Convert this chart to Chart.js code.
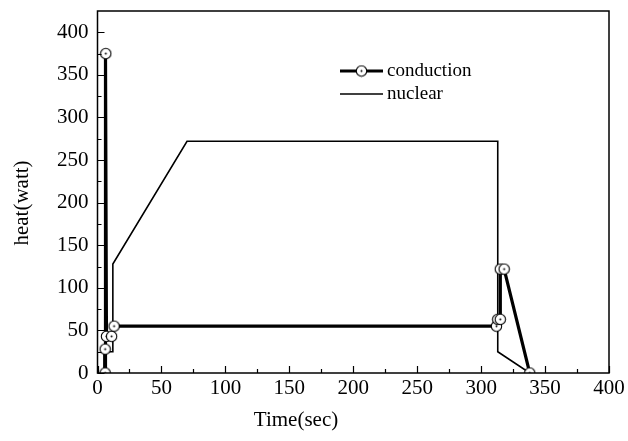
<!DOCTYPE html>
<html>
<head>
<meta charset="utf-8">
<script src="https://cdn.jsdelivr.net/npm/chart.js@4/dist/chart.umd.min.js"></script>
<style>
  html, body { margin: 0; padding: 0; background: #fff; }
  #wrap { width: 628px; height: 441px; }
</style>
</head>
<body>
<div id="wrap"><canvas id="heatChart" width="628" height="441"></canvas></div>
<script>
// conduction heat vs time
const condTime = [6, 6, 6.5, 7, 11, 13, 312, 313, 315, 315, 318, 338];
const condHeat = [0, 28, 375, 43, 43, 55, 55, 63, 63, 122, 122, 0];

// nuclear heat vs time
const nucTime = [5, 5, 12, 12, 70, 313, 313, 338];
const nucHeat = [0, 25, 25, 128, 272, 272, 25, 0];

const xTicks = [0, 50, 100, 150, 200, 250, 300, 350, 400];
const yTicks = [0, 50, 100, 150, 200, 250, 300, 350, 400];

const ink = '#000';
const serif = '"Liberation Serif", "DejaVu Serif", serif';

// open circle with a dot in the middle
function dotCircle() {
  const c = document.createElement('canvas');
  c.width = 13; c.height = 13;
  const g = c.getContext('2d');
  g.beginPath();
  g.arc(6.5, 6.5, 5.2, 0, Math.PI * 2);
  g.fillStyle = '#fff';
  g.fill();
  g.lineWidth = 1.1;
  g.strokeStyle = ink;
  g.stroke();
  g.beginPath();
  g.arc(6.5, 6.5, 1, 0, Math.PI * 2);
  g.fillStyle = ink;
  g.fill();
  return c;
}
const marker = dotCircle();

const toPoints = (xs, ys) => xs.map((x, i) => ({ x, y: ys[i] }));

// frame, inward ticks, axis titles and the legend box
const framePlugin = {
  id: 'frame',
  afterDraw(chart) {
    const { ctx, chartArea: a, scales } = chart;
    ctx.save();
    ctx.strokeStyle = ink;
    ctx.lineWidth = 1.5;
    ctx.strokeRect(a.left, a.top, a.right - a.left, a.bottom - a.top);

    ctx.lineWidth = 1.2;
    ctx.beginPath();
    for (let v = 0; v <= 400; v += 25) {
      const len = v % 50 === 0 ? 7 : 4;
      const px = Math.round(scales.x.getPixelForValue(v)) + 0.5;
      ctx.moveTo(px, a.bottom);
      ctx.lineTo(px, a.bottom - len);
      const py = Math.round(scales.y.getPixelForValue(v)) + 0.5;
      ctx.moveTo(a.left, py);
      ctx.lineTo(a.left + len, py);
    }
    ctx.stroke();

    // axis titles
    ctx.fillStyle = ink;
    ctx.font = '21px ' + serif;
    ctx.textAlign = 'center';
    ctx.textBaseline = 'middle';
    ctx.fillText('Time(sec)', 296, 420);
    ctx.save();
    ctx.translate(22, 203);
    ctx.rotate(-Math.PI / 2);
    ctx.fillText('heat(watt)', 0, 0);
    ctx.restore();

    // legend
    const lx = 340, rows = [71, 94];
    ctx.font = '19px ' + serif;
    ctx.textAlign = 'left';
    chart.data.datasets.forEach((ds, i) => {
      const y = rows[i];
      ctx.lineWidth = ds.borderWidth;
      ctx.beginPath();
      ctx.moveTo(lx, y);
      ctx.lineTo(lx + 43, y);
      ctx.stroke();
      if (ds.pointRadius > 0) ctx.drawImage(marker, lx + 15, y - 6.5);
      ctx.fillText(ds.label, lx + 47, y);
    });
    ctx.restore();
  }
};

new Chart(document.getElementById('heatChart'), {
  type: 'scatter',
  data: {
    datasets: [
      {
        label: 'conduction',
        data: toPoints(condTime, condHeat),
        showLine: true,
        borderColor: ink,
        borderWidth: 3.2,
        pointStyle: marker,
        pointRadius: 6,
        tension: 0
      },
      {
        label: 'nuclear',
        data: toPoints(nucTime, nucHeat),
        showLine: true,
        borderColor: ink,
        borderWidth: 1.6,
        pointRadius: 0,
        tension: 0
      }
    ]
  },
  options: {
    responsive: false,
    animation: false,
    devicePixelRatio: 1,
    layout: { padding: { top: 11, right: 19, left: 0, bottom: 0 } },
    plugins: { legend: { display: false }, tooltip: { enabled: false } },
    scales: {
      x: {
        type: 'linear',
        min: 0,
        max: 400,
        afterBuildTicks: s => { s.ticks = xTicks.map(v => ({ value: v })); },
        afterFit: s => { s.height = 68; s.paddingLeft = 0; s.paddingRight = 0; },
        grid: { display: false, drawTicks: false },
        border: { display: false },
        ticks: { color: ink, padding: 3, maxRotation: 0, font: { family: serif, size: 21 } }
      },
      y: {
        type: 'linear',
        min: 0,
        max: 425,
        afterBuildTicks: s => { s.ticks = yTicks.map(v => ({ value: v })); },
        afterFit: s => { s.width = 97.5; s.paddingTop = 0; s.paddingBottom = 0; },
        grid: { display: false, drawTicks: false },
        border: { display: false },
        ticks: { color: ink, padding: 9, font: { family: serif, size: 21 } }
      }
    }
  },
  plugins: [framePlugin]
});
</script>
</body>
</html>
